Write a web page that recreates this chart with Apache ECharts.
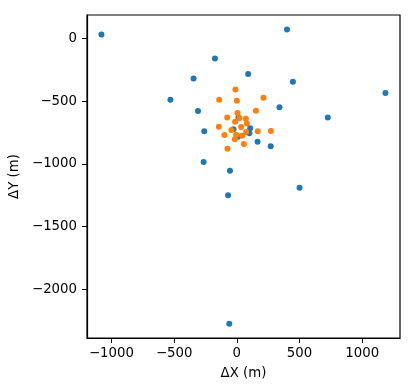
<!DOCTYPE html>
<html>
<head>
<meta charset="utf-8">
<script src="https://cdn.jsdelivr.net/npm/echarts@6/dist/echarts.min.js"></script>
<style>
  html, body { margin: 0; padding: 0; background: #fff; }
  #chart { width: 415px; height: 392px; }
</style>
</head>
<body>
<div id="chart"></div>
<script>
// station offsets, blue set
var blueX = [-1080, 400, -175, 90, -345, 447, 1185, -530, -310, 340, 725, -260, 165, 270, -265, -55, -70, 500, -60, 13, 106, -27, 100, 8];
var blueY = [30, 70, -160, -285, -320, -345, -435, -490, -580, -550, -630, -740, -825, -860, -985, -1055, -1250, -1190, -2275, -630, -717, -725, -757, -784];
// orange set
var orangeX = [-11, -141, 0, 212, 152, 5, -77, 21, 72, -14, 80, -144, 34, -43, 167, 271, 74, -99, -6, 42, -16, 56, -75];
var orangeY = [-407, -489, -497, -473, -577, -595, -630, -635, -641, -665, -678, -704, -707, -731, -741, -739, -747, -771, -768, -776, -805, -843, -880];

var xTicks = [-1000, -500, 0, 500, 1000];
var yTicks = [0, -500, -1000, -1500, -2000];

function pairs(xs, ys) {
  return xs.map(function (x, i) { return [x, ys[i]]; });
}
function fmt(v) {
  return String(v).replace('-', '\u2212');
}

var font = 'DejaVu Sans';
var fs = 13.3;
var chart = echarts.init(document.getElementById('chart'));

chart.setOption({
  animation: false,
  textStyle: { fontFamily: font },
  grid: {
    left: 87, right: 15, top: 15, bottom: 54,
    show: true, borderColor: '#000', borderWidth: 1.2
  },
  xAxis: {
    type: 'value',
    min: -1195, max: 1301,
    name: '\u0394X (m)',
    nameLocation: 'middle',
    nameGap: 29,
    nameTextStyle: { fontSize: fs, color: '#000', fontFamily: font },
    splitLine: { show: false },
    axisLine: { show: true, onZero: false, lineStyle: { color: '#000', width: 1.2 } },
    axisTick: { show: true, length: 5, customValues: xTicks, lineStyle: { color: '#000' } },
    axisLabel: { customValues: xTicks, formatter: fmt, fontSize: fs, color: '#000', margin: 9, fontFamily: font }
  },
  yAxis: {
    type: 'value',
    min: -2388, max: 186,
    name: '\u0394Y (m)',
    nameLocation: 'middle',
    nameGap: 58,
    nameRotate: 90,
    nameTextStyle: { fontSize: fs, color: '#000', fontFamily: font },
    splitLine: { show: false },
    axisLine: { show: true, onZero: false, lineStyle: { color: '#000', width: 1.2 } },
    axisTick: { show: true, length: 5, customValues: yTicks, lineStyle: { color: '#000' } },
    axisLabel: { customValues: yTicks, formatter: fmt, fontSize: fs, color: '#000', margin: 10, fontFamily: font }
  },
  series: [
    {
      type: 'scatter',
      data: pairs(blueX, blueY),
      symbolSize: 6,
      itemStyle: { color: '#1f77b4', opacity: 1 }
    },
    {
      type: 'scatter',
      data: pairs(orangeX, orangeY),
      symbolSize: 6,
      itemStyle: { color: '#ff7f0e', opacity: 1 }
    }
  ]
});
</script>
</body>
</html>
